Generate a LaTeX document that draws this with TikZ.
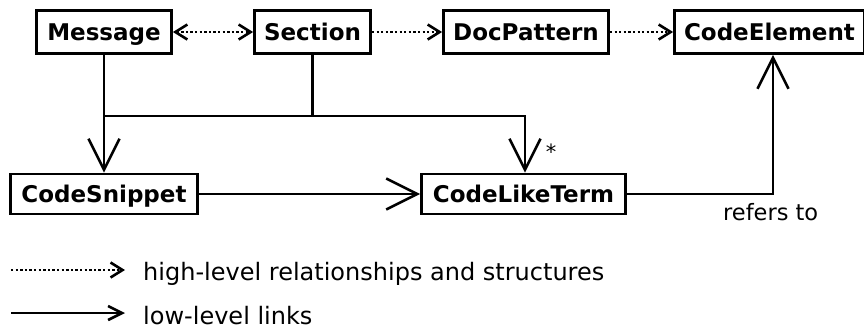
\documentclass[tikz,border=0pt]{standalone}
\usepackage{fontspec}
\setmainfont{DejaVu Sans}
\usetikzlibrary{arrows.meta}
\begin{document}
\begin{tikzpicture}[x=1pt,y=-1pt,
  cls/.style={draw, line width=2.8pt, inner sep=0pt, font=\fontsize{23}{26}\selectfont\bfseries, text height=16.8pt, text depth=0pt},
  top/.style={cls, minimum height=43pt},
  bot/.style={cls, minimum height=40pt},
  low/.style={line width=2.6pt, -{Straight Barb[length=31pt,width=31pt,line width=2.6pt]}},
  high/.style={line width=2.6pt, dash pattern=on 2.3pt off 2.3pt, -{Straight Barb[length=12pt,width=15pt,line width=2.6pt]}},
  highboth/.style={line width=2.6pt, dash pattern=on 2.3pt off 2.3pt, {Straight Barb[length=12pt,width=15pt,line width=2.6pt]}-{Straight Barb[length=12pt,width=15pt,line width=2.6pt]}},
  leglow/.style={line width=2.6pt, -{Straight Barb[length=14pt,width=14pt,line width=2.6pt]}},
  plain/.style={line width=2.6pt},
  lbl/.style={font=\fontsize{24}{27}\selectfont, inner sep=0pt}]
\useasboundingbox (0,0) rectangle (864,333);
% classes
\node[top, minimum width=135pt] (msg) at (104,32) {Message};
\node[top, minimum width=116pt] (sec) at (312.5,32) {Section};
\node[top, minimum width=165pt] (doc) at (526,32) {DocPattern};
\node[top, minimum width=190pt] (ce) at (769.5,32) {CodeElement};
\node[bot, minimum width=187pt] (cs) at (104,194) {CodeSnippet};
\node[bot, minimum width=204pt] (clt) at (523.5,194) {CodeLikeTerm};
% high-level links
\draw[highboth] (msg) -- (sec);
\draw[high] (sec) -- (doc);
\draw[high] (doc) -- (ce);
% low-level links
\coordinate (jl) at (104,116);
\coordinate (jr) at (525,116);
\draw[low] (msg) -- (cs);
\draw[plain] (jl) -- (sec.south |- jl);
\draw[plain] (sec.south) -- (sec.south |- jl);
\draw[low] (sec.south |- jl) -- (jr) -- (jr |- clt.north);
\draw[low] (cs) -- (clt);
\draw[low] (clt.east) -| ([xshift=3.5pt]ce.south);
\node[lbl, font=\fontsize{21}{24}\selectfont] (star) at (551,152) {*};
\node[lbl, font=\fontsize{22.5}{25}\selectfont, anchor=base west] (ref) at (723,220) {refers to};
% legend
\node[lbl, anchor=base west] (lh) at (143,280) {high-level relationships and structures};
\node[lbl, anchor=base west] (ll) at (143,324) {low-level links};
\coordinate (lh0) at (11,270);
\coordinate (ll0) at (11,313);
\draw[high] (lh0) -- (125,270);
\draw[leglow] (ll0) -- (125,313);
\end{tikzpicture}
\end{document}
